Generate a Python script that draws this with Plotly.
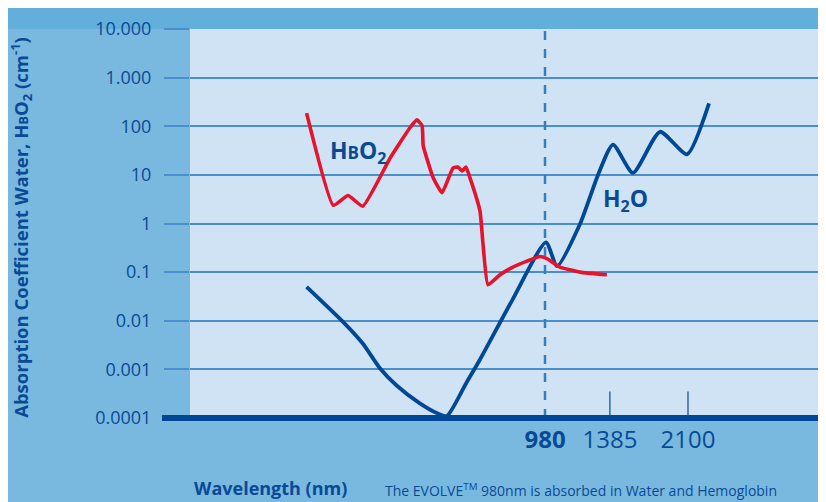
import plotly.graph_objects as go

# Water absorption (wavelength nm, coefficient cm^-1)
water_wl = [275, 334, 371, 406, 445, 503, 552, 581, 646, 693, 822, 985, 1045, 1181, 1300, 1408, 1566, 1809, 2089, 2349]
water_val = [0.050, 0.0095, 0.0034, 0.00107, 0.00046, 0.0002, 0.000125, 0.00011, 0.00055, 0.0016, 0.026, 0.41, 0.133, 0.98, 10, 42, 11, 77, 26.5, 296]

# Oxyhemoglobin absorption
hbo2_wl = [275, 317, 343, 371, 429, 477, 495, 509, 512, 540, 566, 600, 616, 630, 643, 657, 693, 704, 723, 771, 826, 890, 954, 990, 1061, 1181, 1363]
hbo2_val = [186, 2.37, 3.77, 2.26, 22, 93, 135, 102, 40, 8.7, 4.3, 13.8, 14.5, 12, 14.5, 8.7, 1.8, 0.39, 0.055, 0.088, 0.127, 0.168, 0.21, 0.19, 0.127, 0.10, 0.088]

y_tickvals = [0.0001, 0.001, 0.01, 0.1, 1, 10, 100, 1000, 10000]
y_ticktext = ["0.0001", "0.001", "0.01", "0.1", "1", "10", "100", "1.000", "10.000"]
x_tickvals = [980, 1385, 2100]
x_ticktext = ["<b>980</b>", "1385", "2100"]

DARK = "#0a4a94"
GRID = "#4a8fcb"
FONT = "Open Sans"

fig = go.Figure()
fig.add_trace(go.Scatter(x=water_wl, y=water_val, mode="lines",
                         line=dict(color="#004896", width=3.8, shape="spline", smoothing=0.6),
                         hoverinfo="skip", showlegend=False))
fig.add_trace(go.Scatter(x=hbo2_wl, y=hbo2_val, mode="lines",
                         line=dict(color="#e5132c", width=3.6, shape="spline", smoothing=0.4),
                         hoverinfo="skip", showlegend=False))

shapes = [
    # darker strip above plot
    dict(type="rect", xref="paper", yref="paper", x0=-0.4, x1=1.1, y0=1.0, y1=1.1,
         fillcolor="#62afdc", line=dict(width=0), layer="below"),
    # dashed 980 line
    dict(type="line", xref="x", yref="paper", x0=980, x1=980, y0=0, y1=1,
         line=dict(color="#2f7fc2", width=2.5, dash="dash")),
    # small ticks
    dict(type="line", xref="x", yref="paper", x0=1385, x1=1385, y0=0, y1=0.068,
         line=dict(color=DARK, width=1.2)),
    dict(type="line", xref="x", yref="paper", x0=2100, x1=2100, y0=0, y1=0.068,
         line=dict(color=DARK, width=1.2)),
    # thick bottom axis line
    dict(type="line", xref="paper", yref="paper", x0=-0.044, x1=1.02, y0=0, y1=0,
         line=dict(color="#004896", width=6)),
]

fig.update_layout(
    width=826, height=502,
    margin=dict(l=182, r=8, t=13, b=92),
    paper_bgcolor="#79b9e0",
    plot_bgcolor="#cfe3f4",
    font=dict(family=FONT, color=DARK),
    shapes=shapes,
    xaxis=dict(type="log", range=[2.1694, 3.6417], tickvals=x_tickvals, ticktext=x_ticktext,
               showgrid=False, zeroline=False, showline=False, ticks="",
               tickfont=dict(size=24, color=DARK, family=FONT), ticklabelstandoff=5),
    yaxis=dict(type="log", range=[-4, 4], tickvals=y_tickvals, ticktext=y_ticktext,
               showgrid=True, gridcolor=GRID, gridwidth=1.5, zeroline=False, showline=False,
               ticks="outside", ticklen=25, tickcolor=GRID, tickwidth=1.5,
               tickfont=dict(size=18, color=DARK, family=FONT), ticklabelstandoff=9),
    annotations=[
        dict(text="<b>Absorption Coefficient Water, H<span style='font-size:13px'>B</span>O<sub>2</sub> (cm<sup>-1</sup>)</b>",
             xref="paper", yref="paper", x=-0.265, y=0.49, textangle=-90, showarrow=False,
             font=dict(size=18.5, color=DARK, family=FONT), xanchor="center", yanchor="middle"),
        dict(text="<b>H<span style='font-size:17px'>B</span>O<sub>2</sub></b>", x=2.489, y=1.48, xref="x", yref="y",
             showarrow=False, font=dict(size=23, color=DARK, family=FONT), xanchor="left", yanchor="middle"),
        dict(text="<b>H<sub>2</sub>O</b>", x=3.121, y=0.5, xref="x", yref="y",
             showarrow=False, font=dict(size=23, color=DARK, family=FONT), xanchor="left", yanchor="middle"),
        dict(text="<b>Wavelength (nm)</b>", xref="paper", yref="paper", x=0.003, y=-0.181,
             showarrow=False, font=dict(size=18, color=DARK, family=FONT), xanchor="left", yanchor="middle"),
        dict(text="The EVOLVE<sup>TM</sup> 980nm is absorbed in Water and Hemoglobin", xref="paper", yref="paper",
             x=0.303, y=-0.184, showarrow=False, font=dict(size=14, color=DARK, family=FONT),
             xanchor="left", yanchor="middle"),
    ],
)

fig.write_html("out.html")
